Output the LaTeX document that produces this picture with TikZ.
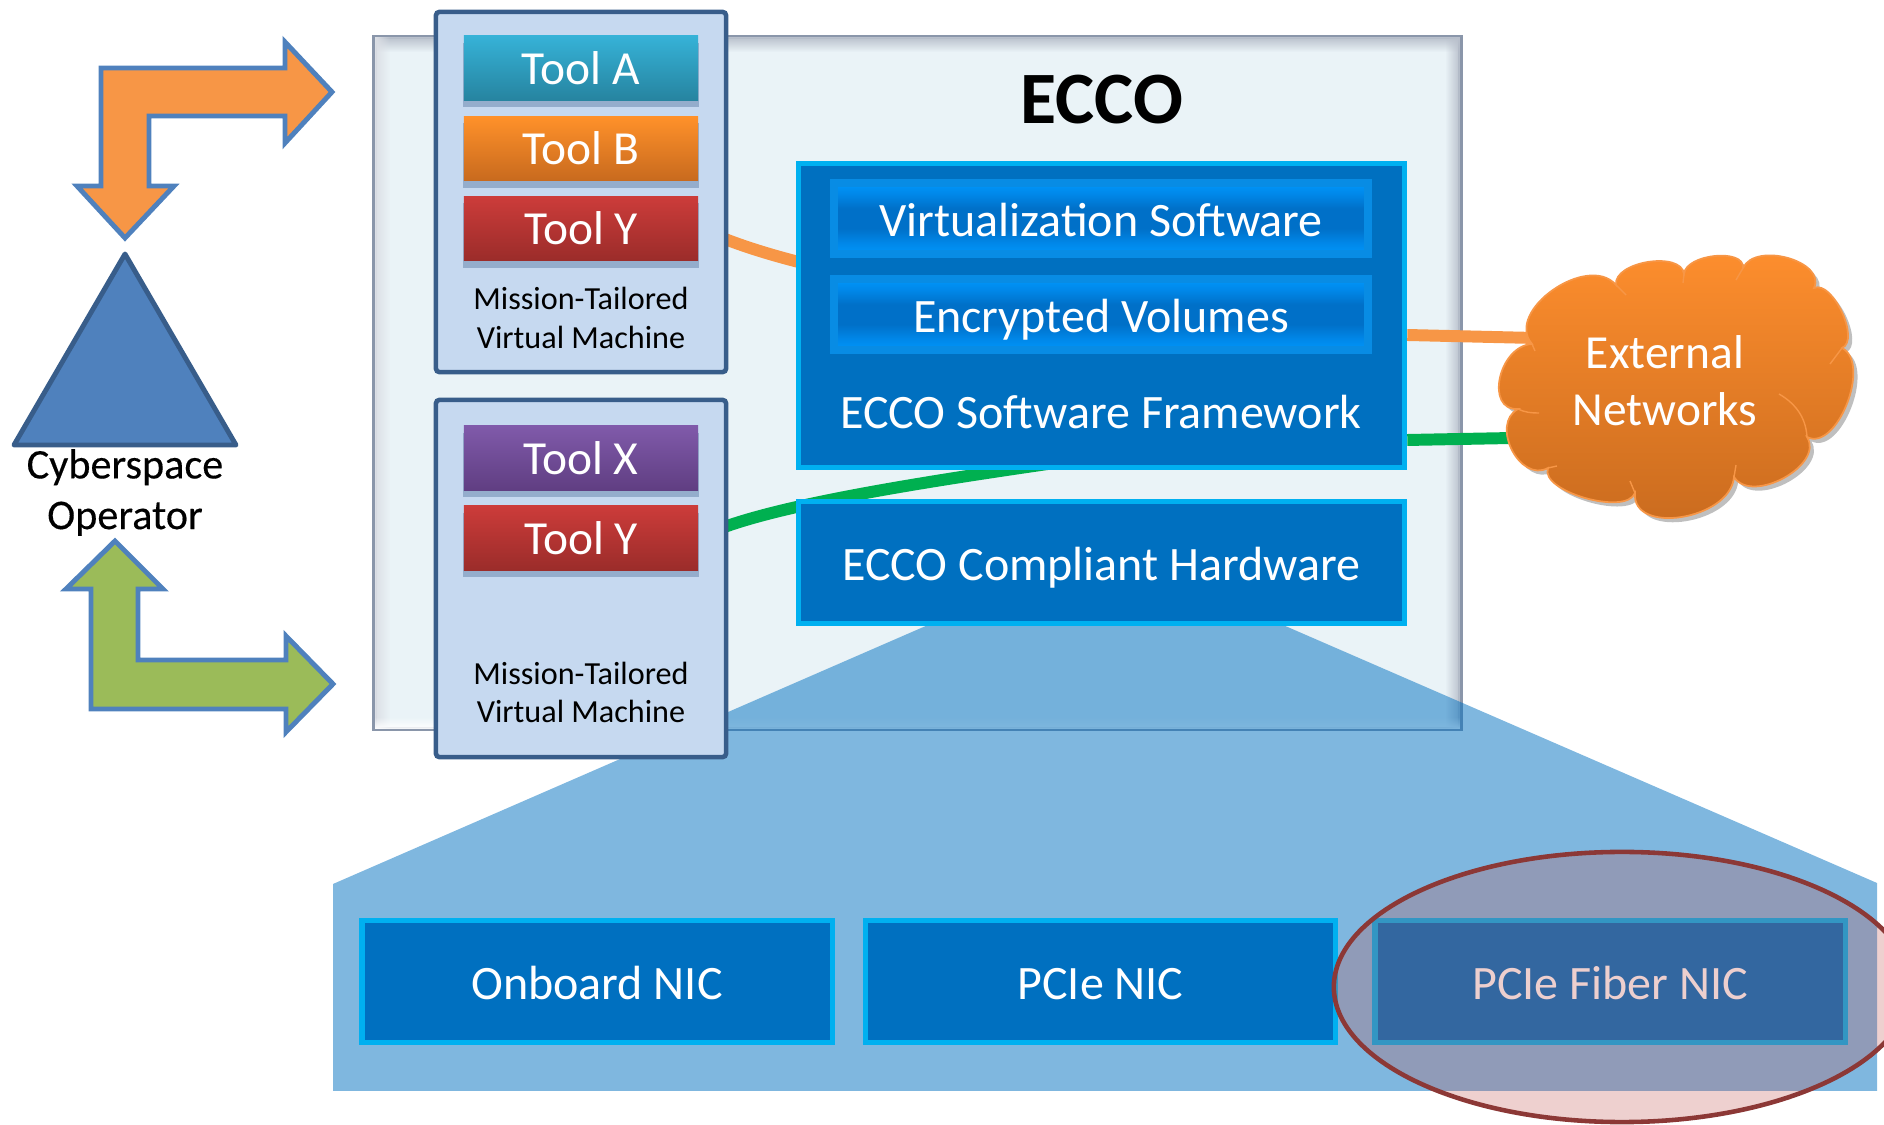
\documentclass[tikz,border=0pt]{standalone}
\usepackage{fontspec}
\setmainfont{Carlito}
\newfontfamily\heavyfont[FakeBold=0.3]{Carlito}
\usetikzlibrary{shadows,shapes.geometric,calc,fadings}
\pgfdeclarelayer{panel}
\pgfdeclarelayer{links}
\pgfdeclarelayer{zoomwedge}
\pgfsetlayers{panel,links,zoomwedge,main}
\definecolor{eccobg}{RGB}{234,243,247}
\definecolor{eccoedge}{RGB}{138,150,170}
\definecolor{vmfill}{RGB}{198,217,240}
\definecolor{vmedge}{RGB}{56,93,138}
\definecolor{bluebox}{RGB}{0,112,192}
\definecolor{cyanedge}{RGB}{0,176,240}
\definecolor{softedge}{RGB}{8,140,228}
\definecolor{softglow}{RGB}{0,150,250}
\definecolor{softmid}{RGB}{0,135,232}
\definecolor{softcore}{RGB}{0,112,200}
\definecolor{arroworange}{RGB}{247,150,70}
\definecolor{arrowgreen}{RGB}{155,187,89}
\definecolor{arrowedge}{RGB}{79,129,189}
\definecolor{linkgreen}{RGB}{0,176,80}
\definecolor{ringred}{RGB}{192,80,77}
\definecolor{ringedge}{RGB}{140,56,54}
\definecolor{toolatop}{RGB}{54,178,215}
\definecolor{toolabot}{RGB}{38,132,160}
\definecolor{toolbtop}{RGB}{255,145,42}
\definecolor{toolbbot}{RGB}{200,106,30}
\definecolor{toolytop}{RGB}{204,60,58}
\definecolor{toolybot}{RGB}{155,44,42}
\definecolor{toolxtop}{RGB}{128,90,170}
\definecolor{toolxbot}{RGB}{96,62,130}
\definecolor{cloudtop}{RGB}{255,143,46}
\definecolor{cloudbot}{RGB}{200,106,30}
\pgfdeclareverticalshading{softband}{100bp}{color(0bp)=(softglow); color(25bp)=(softglow); color(33bp)=(softmid); color(43bp)=(softcore); color(57bp)=(softcore); color(67bp)=(softmid); color(75bp)=(softglow); color(100bp)=(softglow)}
\newcommand{\lobe}[3]{.. controls ($0.3333*(#1)+1.3333*(#2)-0.6667*(#3)$) and ($0.3333*(#3)+1.3333*(#2)-0.6667*(#1)$) .. (#3)}
\tikzset{
  vmbox/.style={draw=vmedge, line width=1.3pt, fill=vmfill, minimum width=2.9cm, rounded corners=1pt},
  toolbox/.style={minimum width=2.34cm, minimum height=0.64cm, text=white, font=\fontsize{13.5}{16}\selectfont,
    drop shadow={shadow xshift=0pt, shadow yshift=-2pt, shadow scale=1.01, fill=vmedge, opacity=.35}},
  vmlabel/.style={font=\fontsize{9.15}{10.9}\selectfont, align=center, text=black},
  framebox/.style={draw=cyanedge, line width=1.5pt, fill=bluebox, text=white, text height=10.2pt, text depth=0pt, font=\fontsize{13.65}{16}\selectfont},
  softbox/.style={draw=softedge, line width=2.2pt, minimum width=5.34cm, minimum height=0.71cm, text=white, text height=10.2pt, text depth=0pt,
    shading=softband, font=\fontsize{13.65}{16}\selectfont},
  link/.style={line width=3.4pt},
  bentarrow/.style={draw=arrowedge, line width=1.4pt, miter limit=10},
  cloudseam/.style={arroworange, line width=.4pt}
}
\begin{document}
\begin{tikzpicture}[x=0.01cm,y=-0.01cm]
  \clip (0,0) rectangle (1884,1125);

  % ECCO panel with its soft inner edge
  \begin{pgfonlayer}{panel}
    \node[draw=eccoedge, line width=1.3pt, fill=eccobg, minimum width=10.85cm, minimum height=6.92cm, inner sep=0pt] (ecco) at (917.5,383) {};
    \fill[eccoedge!60, path fading=south] (375,37) rectangle (1460,52);
    \fill[eccoedge!30, path fading=east] (375,37) rectangle (390,729);
    \fill[eccoedge!60, path fading=west] (1445,37) rectangle (1460,729);
    \fill[white, path fading=north] (375,717) rectangle (1460,729);
  \end{pgfonlayer}
  \node[font=\bfseries\fontsize{21}{26}\selectfont] (eccotitle) at (1102,100) {ECCO};

  % Virtual machines
  \node[vmbox, minimum height=3.6cm] (vmone) at (581,192) {};
  \node[vmbox, minimum height=3.57cm] (vmtwo) at (581,578.5) {};

  \node[toolbox, top color=toolatop, bottom color=toolabot] (toola) at (581,68) {Tool A};
  \node[toolbox, top color=toolbtop, bottom color=toolbbot] (toolb) at (581,148.5) {Tool B};
  \node[toolbox, top color=toolytop, bottom color=toolybot] (toolyone) at (581,228.5) {Tool Y};
  \node[vmlabel] (vmonelabel) at (581,318) {Mission-Tailored\\Virtual Machine};

  \node[toolbox, top color=toolxtop, bottom color=toolxbot] (toolx) at (581,458) {Tool X};
  \node[toolbox, top color=toolytop, bottom color=toolybot] (toolytwo) at (581,538) {Tool Y};
  \node[vmlabel] (vmtwolabel) at (581,692.5) {Mission-Tailored\\Virtual Machine};

  % Framework stack
  \node[framebox, minimum width=6.06cm, minimum height=3.04cm] (framework) at (1101.5,315.5) {};
  \node[softbox] (virtsw) at (1101,218.5) {Virtualization Software};
  \node[softbox] (encvol) at (1101,314.5) {Encrypted Volumes};
  \node[text=white, font=\fontsize{13.65}{16}\selectfont] (fwlabel) at (1101,412) {ECCO Software Framework};
  \node[framebox, minimum width=6.06cm, minimum height=1.22cm] (hardware) at (1101.5,562.5) {ECCO Compliant Hardware};

  % NIC row
  \begin{pgfonlayer}{zoomwedge}
    \fill[bluebox, fill opacity=.5] (333,884) -- (928,625) -- (1283,625) -- (1877,883) -- (1877,1091) -- (333,1091) -- cycle;
  \end{pgfonlayer}
  \node[framebox, minimum width=4.7cm, minimum height=1.22cm] (onboard) at (597,981.5) {Onboard NIC};
  \node[framebox, minimum width=4.7cm, minimum height=1.22cm] (pcie) at (1100.5,981.5) {PCIe NIC};
  \node[framebox, minimum width=4.7cm, minimum height=1.22cm] (fiber) at (1610,981.5) {PCIe Fiber NIC};
  \node[ellipse, draw=ringedge, line width=1.3pt, fill=ringred, fill opacity=.27, draw opacity=1, minimum width=5.76cm, minimum height=2.7cm, inner sep=0pt] (ring) at (1622,987) {};

  % Operator and arrows
  \fill[arrowedge, draw=vmedge, line width=1.4pt, line join=round] (125,254) -- (236,445) -- (14,445) -- cycle;
  \node[font=\heavyfont\fontsize{12}{14.4}\selectfont, align=center] (operator) at (125,492.5) {Cyberspace\\Operator};
  \draw[bentarrow, fill=arroworange] (101,68) -- (285,68) -- (285,42) -- (332,92) -- (285,143) -- (285,116) -- (149,116) -- (149,186) -- (174,186) -- (125,238) -- (77,186) -- (101,186) -- cycle;
  \draw[bentarrow, fill=arrowgreen] (115,541) -- (163,589) -- (138,589) -- (138,660) -- (286,660) -- (286,636) -- (333,684) -- (286,732) -- (286,709) -- (91,709) -- (91,589) -- (66,589) -- cycle;

  % Cloud
  \shade[top color=cloudtop, bottom color=cloudbot, draw=arroworange, line width=.5pt,
    drop shadow={shadow xshift=1.2pt, shadow yshift=-1.2pt, fill=gray, opacity=.5}]
    (1532,344) \lobe{1532,344}{1553,290}{1616,285}
    \lobe{1616,285}{1648,262}{1684,274}
    \lobe{1684,274}{1715,256}{1743,268}
    \lobe{1743,268}{1788,258}{1814,288}
    \lobe{1814,288}{1842,312}{1842,348}
    \lobe{1842,348}{1847,404}{1807,437}
    \lobe{1807,437}{1784,478}{1734,477}
    \lobe{1734,477}{1682,517}{1635,493}
    \lobe{1635,493}{1585,498}{1548,468}
    \lobe{1548,468}{1512,450}{1518,409}
    \lobe{1518,409}{1500,378}{1532,344} -- cycle;
  \draw[cloudseam] (1779,394) .. controls (1798,405) and (1806,420) .. (1807,437);
  \draw[cloudseam] (1518,409) .. controls (1524,412) and (1530,413) .. (1539,413);
  \draw[cloudseam] (1548,468) -- (1557,466);
  \draw[cloudseam] (1734,477) -- (1736,465);
  \draw[cloudseam] (1635,493) -- (1630,481);
  \draw[cloudseam] (1616,285) -- (1626,295);
  \draw[cloudseam] (1684,274) -- (1683,283);
  \draw[cloudseam] (1743,268) -- (1736,280);
  \draw[cloudseam] (1842,348) -- (1830,364);
  \draw[cloudseam] (1532,344) -- (1535,351);
  \node[text=white, font=\fontsize{13.5}{16.2}\selectfont, align=center] (cloud) at (1665,381) {External\\Networks};

  % Links between the boxes
  \coordinate (cloudorange) at (1535,338);
  \coordinate (cloudgreen) at (1512,438);
  \begin{pgfonlayer}{links}
    \draw[link, arroworange] (toolyone.east) .. controls (740,245) and (800,275) .. (framework.center);
    \draw[link, linkgreen] (toolytwo.east) .. controls (760,505) and (950,478) .. ($(framework.south)+(0,-14)$);
    \draw[link, arroworange] (framework.east |- 0,335) -- (cloudorange);
    \draw[link, linkgreen] (framework.east |- 0,440) -- (cloudgreen);
  \end{pgfonlayer}
\end{tikzpicture}
\end{document}
